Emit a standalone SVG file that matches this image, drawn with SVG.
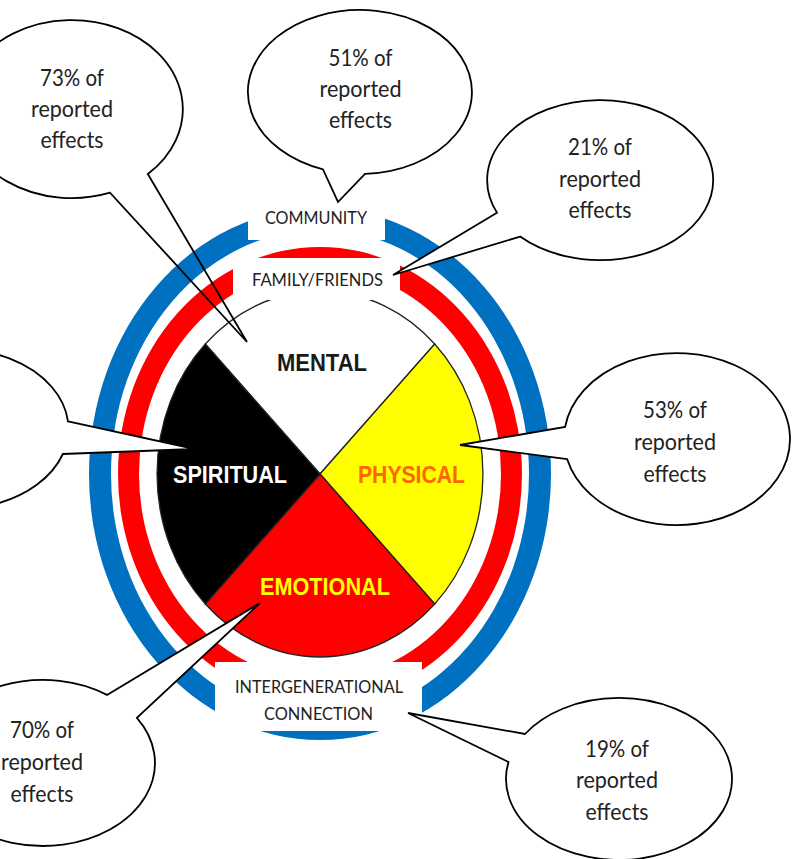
<svg xmlns="http://www.w3.org/2000/svg" width="792" height="859" viewBox="0 0 792 859">
<style>
.bub{fill:#fff;stroke:none}
.bubs{fill:none;stroke:#000;stroke-width:1.8;stroke-linejoin:miter}
.bt{font-family:Lato,"Open Sans",sans-serif;font-size:23px;fill:#222}
.lb{font-family:Lato,"Open Sans",sans-serif;font-size:18px;fill:#222}
.pt{font-family:"Liberation Sans",Arial,sans-serif;font-weight:bold;font-size:21px}
.seg{stroke:#222;stroke-width:1.3}
</style>
<rect width="792" height="859" fill="#fff"/>

<!-- 73% callout fill (rings show through its tail) -->
<path id="c73fill" class="bub" d="M147.8,174 L247,342 L110,192.7 A111 89 0 1 1 147.8,174 Z"/>

<g id="rings">
  <path id="ring-blue" fill="#0070C0" fill-rule="evenodd" d="M89,474 A231 266 0 1 0 551,474 A231 266 0 1 0 89,474 Z M111,474 A209 244 0 1 0 529,474 A209 244 0 1 0 111,474 Z"/>
  <path id="ring-red" fill="#FF0000" fill-rule="evenodd" d="M118,474 A202 227 0 1 0 522,474 A202 227 0 1 0 118,474 Z M139,474 A181 205 0 1 0 501,474 A181 205 0 1 0 139,474 Z"/>
</g>

<g id="wheel">
  <path id="seg-mental" class="seg" fill="#fff" d="M320,474 L205.3,344 A163 183 0 0 1 434.7,344 Z"/>
  <path id="seg-physical" class="seg" fill="#FFFF00" d="M320,474 L434.7,344 A163 183 0 0 1 434.7,604 Z"/>
  <path id="seg-emotional" class="seg" fill="#FF0000" d="M320,474 L434.7,604 A163 183 0 0 1 205.3,604 Z"/>
  <path id="seg-spiritual" class="seg" fill="#000" d="M320,474 L205.3,604 A163 183 0 0 1 205.3,344 Z"/>
</g>

<g id="label-community">
  <rect x="248" y="195" width="137" height="45" fill="#fff"/>
  <text class="lb" x="265" y="224" textLength="102" lengthAdjust="spacingAndGlyphs">COMMUNITY</text>
</g>
<g id="label-family">
  <rect x="233" y="258" width="167" height="42" fill="#fff"/>
  <text class="lb" x="252" y="286" textLength="131" lengthAdjust="spacingAndGlyphs">FAMILY/FRIENDS</text>
</g>
<g id="label-intergen">
  <rect x="215" y="662" width="207" height="69" fill="#fff"/>
  <text class="lb" x="235" y="693" textLength="168" lengthAdjust="spacingAndGlyphs">INTERGENERATIONAL</text>
  <text class="lb" x="264" y="720" textLength="109" lengthAdjust="spacingAndGlyphs">CONNECTION</text>
</g>

<g id="wheel-labels">
  <text id="t-mental" class="pt" fill="#1a1a1a" x="277" y="0" textLength="90" lengthAdjust="spacingAndGlyphs" transform="translate(0,371) scale(1,1.12)">MENTAL</text>
  <text id="t-spiritual" class="pt" fill="#fff" x="173" y="0" textLength="114" lengthAdjust="spacingAndGlyphs" transform="translate(0,483) scale(1,1.12)">SPIRITUAL</text>
  <text id="t-physical" class="pt" fill="#FF6600" x="358" y="0" textLength="107" lengthAdjust="spacingAndGlyphs" transform="translate(0,483) scale(1,1.12)">PHYSICAL</text>
  <text id="t-emotional" class="pt" fill="#FFFF00" x="260" y="0" textLength="130" lengthAdjust="spacingAndGlyphs" transform="translate(0,595) scale(1,1.12)">EMOTIONAL</text>
</g>

<g id="connectors"></g>

<g id="callout-73">
  <path class="bubs" d="M147.8,174 L247,342 L110,192.7 A111 89 0 1 1 147.8,174 Z"/>
  <text class="bt" x="40" y="86" textLength="64" lengthAdjust="spacingAndGlyphs">73% of</text>
  <text class="bt" x="31" y="117" textLength="82" lengthAdjust="spacingAndGlyphs">reported</text>
  <text class="bt" x="40.5" y="148" textLength="63" lengthAdjust="spacingAndGlyphs">effects</text>
</g>

<g id="callout-51">
  <path class="bub" d="M365,173.9 L338,202 L323,169.4 A112 82 0 1 1 365,173.9 Z"/>
  <path class="bubs" d="M365,173.9 L338,202 L323,169.4 A112 82 0 1 1 365,173.9 Z"/>
  <text class="bt" x="328.5" y="66" textLength="64" lengthAdjust="spacingAndGlyphs">51% of</text>
  <text class="bt" x="319.5" y="97" textLength="82" lengthAdjust="spacingAndGlyphs">reported</text>
  <text class="bt" x="329" y="128" textLength="63" lengthAdjust="spacingAndGlyphs">effects</text>
</g>

<g id="callout-21">
  <path class="bub" d="M520.1,236.6 L393,275 L497,212.8 A113 80 0 1 1 520.1,236.6 Z"/>
  <path class="bubs" d="M520.1,236.6 L393,275 L497,212.8 A113 80 0 1 1 520.1,236.6 Z"/>
  <text class="bt" x="568" y="155" textLength="64" lengthAdjust="spacingAndGlyphs">21% of</text>
  <text class="bt" x="559" y="187" textLength="82" lengthAdjust="spacingAndGlyphs">reported</text>
  <text class="bt" x="568.5" y="218" textLength="63" lengthAdjust="spacingAndGlyphs">effects</text>
</g>

<g id="callout-53">
  <path class="bub" d="M567.1,459.1 L460,445 L565.1,427 A113 86 0 1 1 567.1,459.1 Z"/>
  <path class="bubs" d="M567.1,459.1 L460,445 L565.1,427 A113 86 0 1 1 567.1,459.1 Z"/>
  <text class="bt" x="643" y="418" textLength="64" lengthAdjust="spacingAndGlyphs">53% of</text>
  <text class="bt" x="634" y="450" textLength="82" lengthAdjust="spacingAndGlyphs">reported</text>
  <text class="bt" x="643.5" y="482" textLength="63" lengthAdjust="spacingAndGlyphs">effects</text>
</g>

<g id="callout-left">
  <path class="bub" d="M68,421.4 L195,449 L62.9,454 A112 80 0 1 1 68,421.4 Z"/>
  <path class="bubs" d="M68,421.4 L195,449 L62.9,454 A112 80 0 1 1 68,421.4 Z"/>
</g>

<g id="callout-70">
  <path class="bub" d="M107,694.9 L260,603 L136.9,717.8 A112 83 0 1 1 107,694.9 Z"/>
  <path class="bubs" d="M107,694.9 L260,603 L136.9,717.8 A112 83 0 1 1 107,694.9 Z"/>
  <text class="bt" x="10" y="738" textLength="64" lengthAdjust="spacingAndGlyphs">70% of</text>
  <text class="bt" x="1" y="770" textLength="82" lengthAdjust="spacingAndGlyphs">reported</text>
  <text class="bt" x="10.5" y="802" textLength="63" lengthAdjust="spacingAndGlyphs">effects</text>
</g>

<g id="callout-19">
  <path class="bub" d="M508.5,762 L408,713 L525,734 A113 81 0 1 1 508.5,762 Z"/>
  <path class="bubs" d="M508.5,762 L408,713 L525,734 A113 81 0 1 1 508.5,762 Z"/>
  <text class="bt" x="585" y="757" textLength="64" lengthAdjust="spacingAndGlyphs">19% of</text>
  <text class="bt" x="576" y="788" textLength="82" lengthAdjust="spacingAndGlyphs">reported</text>
  <text class="bt" x="585.5" y="820" textLength="63" lengthAdjust="spacingAndGlyphs">effects</text>
</g>
</svg>
